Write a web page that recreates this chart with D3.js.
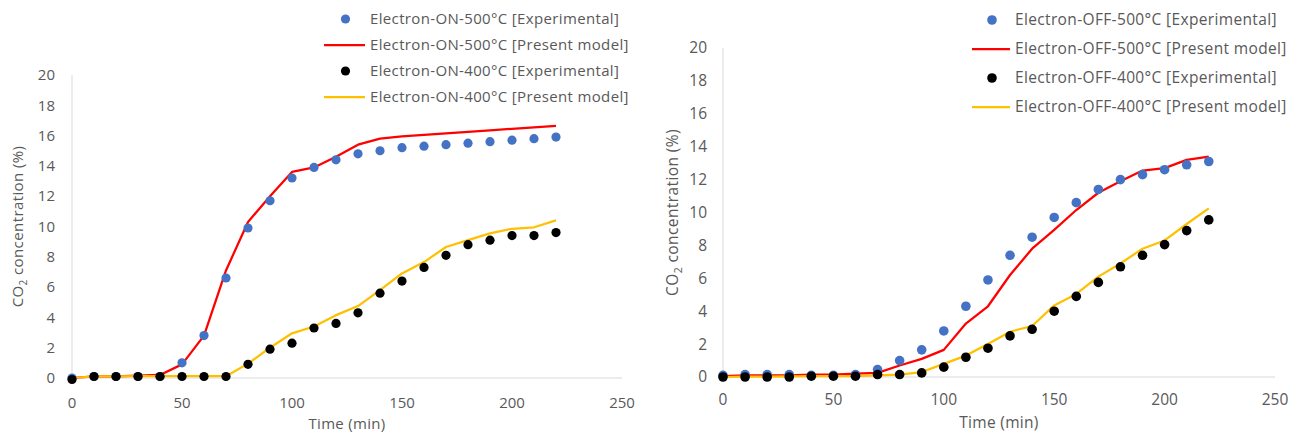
<!DOCTYPE html>
<html>
<head>
<meta charset="utf-8">
<script src="https://cdn.jsdelivr.net/npm/d3@7"></script>
<style>
  body { margin: 0; background: #fff; }
  svg { display: block; font-family: "Open Sans", sans-serif; }
</style>
</head>
<body>
<div id="vis"></div>
<script>
// time axis (min)
const times = d3.range(0, 230, 10);
const xTicks = [0, 50, 100, 150, 200, 250];
const yTicks = [0, 2, 4, 6, 8, 10, 12, 14, 16, 18, 20];

// Electron-ON panel
const onExp500 = [0, 0.1, 0.1, 0.1, 0.1, 1.0, 2.8, 6.6, 9.9, 11.7, 13.2, 13.9, 14.4, 14.8, 15.0, 15.2, 15.3, 15.4, 15.5, 15.6, 15.7, 15.8, 15.9];
const onModel500 = [0, 0.1, 0.1, 0.15, 0.2, 0.9, 2.8, 7.1, 10.3, 12.0, 13.6, 13.9, 14.6, 15.4, 15.8, 15.95, 16.05, 16.15, 16.25, 16.35, 16.45, 16.55, 16.65];
const onExp400 = [-0.1, 0.1, 0.1, 0.1, 0.1, 0.1, 0.1, 0.1, 0.9, 1.9, 2.3, 3.3, 3.6, 4.3, 5.6, 6.4, 7.3, 8.1, 8.8, 9.1, 9.4, 9.4, 9.6];
const onModel400 = [0, 0.1, 0.1, 0.12, 0.12, 0.12, 0.12, 0.12, 0.95, 2.0, 2.95, 3.4, 4.15, 4.75, 5.8, 6.9, 7.65, 8.65, 9.1, 9.55, 9.85, 9.95, 10.4];

// Electron-OFF panel
const offExp500 = [0.1, 0.15, 0.15, 0.15, 0.1, 0.1, 0.15, 0.45, 1.0, 1.65, 2.8, 4.3, 5.9, 7.4, 8.5, 9.7, 10.6, 11.4, 12.0, 12.3, 12.6, 12.9, 13.1];
const offModel500 = [0.05, 0.1, 0.1, 0.1, 0.15, 0.15, 0.2, 0.25, 0.7, 1.1, 1.65, 3.25, 4.3, 6.2, 7.8, 8.95, 10.15, 11.2, 11.9, 12.55, 12.7, 13.2, 13.4];
const offExp400 = [0, 0, 0, 0, 0.05, 0.05, 0.05, 0.15, 0.15, 0.25, 0.6, 1.2, 1.75, 2.5, 2.9, 4.0, 4.9, 5.75, 6.7, 7.4, 8.05, 8.9, 9.55];
const offModel400 = [0, 0.02, 0.03, 0.04, 0.05, 0.05, 0.06, 0.1, 0.15, 0.3, 0.8, 1.3, 2.0, 2.75, 3.1, 4.35, 5.05, 6.1, 6.9, 7.8, 8.3, 9.3, 10.25];

const blue = "#4472C4", red = "#FF0000", yellow = "#FFC000", grey = "#595959";

let svg = d3.select("#vis")
  .append("svg")
  .attr("width", 1298)
  .attr("height", 440);

function drawPanel(p) {
  let g = svg.append("g");

  let x = d3.scaleLinear().domain([0, 250]).range([p.left, p.right]);
  let y = d3.scaleLinear().domain([0, 20]).range([p.bottom, p.top]);

  // axis lines (no ticks, light grey like Excel)
  g.append("line")
    .attr("x1", x(0)).attr("x2", x(0))
    .attr("y1", y(0)).attr("y2", y(20))
    .attr("stroke", "#D9D9D9").attr("stroke-width", 1);
  g.append("line")
    .attr("x1", x(0)).attr("x2", x(250))
    .attr("y1", y(0)).attr("y2", y(0))
    .attr("stroke", "#D9D9D9").attr("stroke-width", 1);

  // tick labels
  g.selectAll(".yt")
    .data(yTicks)
    .enter()
    .append("text")
      .attr("x", x(0) - p.ygap)
      .attr("y", d => y(d))
      .attr("dy", "0.35em")
      .attr("text-anchor", "end")
      .attr("fill", grey)
      .style("font-size", p.fs + "px")
      .text(d => d);
  g.selectAll(".xt")
    .data(xTicks)
    .enter()
    .append("text")
      .attr("x", d => x(d))
      .attr("y", y(0) + p.xgap)
      .attr("dy", "0.35em")
      .attr("text-anchor", "middle")
      .attr("fill", grey)
      .style("font-size", p.fs + "px")
      .text(d => d);

  // axis titles
  g.append("text")
    .attr("x", (p.left + p.right) / 2)
    .attr("y", p.xtitleY)
    .attr("text-anchor", "middle")
    .attr("fill", grey)
    .style("font-size", p.fs + "px")
    .style("letter-spacing", "0.3px")
    .text("Time (min)");

  let yt = g.append("text")
    .attr("transform", `translate(${p.ytitleX},${(p.top + p.bottom) / 2}) rotate(-90)`)
    .attr("text-anchor", "middle")
    .attr("fill", grey)
    .style("font-size", p.fs + "px")
    .style("letter-spacing", "0.4px");
  yt.append("tspan").text("CO");
  yt.append("tspan").attr("dy", 4).style("font-size", (p.fs - 5) + "px").text("2");
  yt.append("tspan").attr("dy", -4).text(" concentration (%)");

  let line = d3.line()
    .x((d, i) => x(times[i]))
    .y(d => y(d));

  // model lines
  g.append("path")
    .datum(p.model500)
    .attr("fill", "none")
    .attr("stroke", red)
    .attr("stroke-width", 2.25)
    .attr("stroke-linejoin", "round")
    .attr("d", line);
  g.append("path")
    .datum(p.model400)
    .attr("fill", "none")
    .attr("stroke", yellow)
    .attr("stroke-width", 2.25)
    .attr("stroke-linejoin", "round")
    .attr("d", line);

  // experimental dots
  g.selectAll(".d500")
    .data(p.exp500)
    .enter()
    .append("circle")
      .attr("cx", (d, i) => x(times[i]))
      .attr("cy", d => y(d))
      .attr("r", p.r)
      .attr("fill", blue);
  g.selectAll(".d400")
    .data(p.exp400)
    .enter()
    .append("circle")
      .attr("cx", (d, i) => x(times[i]))
      .attr("cy", d => y(d))
      .attr("r", p.r)
      .attr("fill", "#000");

  // legend
  let items = [
    {label: p.name + "-500°C [Experimental]", type: "dot", color: blue},
    {label: p.name + "-500°C [Present model]", type: "line", color: red},
    {label: p.name + "-400°C [Experimental]", type: "dot", color: "#000"},
    {label: p.name + "-400°C [Present model]", type: "line", color: yellow}
  ];
  let leg = g.selectAll(".leg")
    .data(items)
    .enter()
    .append("g")
      .attr("transform", (d, i) => `translate(0,${p.legY + i * p.legStep})`);
  leg.filter(d => d.type == "dot")
    .append("circle")
      .attr("cx", p.legX - (p.legLine / 2) - 4)
      .attr("cy", 0)
      .attr("r", p.r)
      .attr("fill", d => d.color);
  leg.filter(d => d.type == "line")
    .append("line")
      .attr("x1", p.legX - p.legLine - 5)
      .attr("x2", p.legX - 5)
      .attr("y1", 0).attr("y2", 0)
      .attr("stroke", d => d.color)
      .attr("stroke-width", 2.25);
  leg.append("text")
    .attr("x", p.legX)
    .attr("y", 0)
    .attr("dy", "0.35em")
    .attr("fill", grey)
    .style("font-size", p.fs + "px")
    .style("letter-spacing", "0.35px")
    .text(d => d.label);
}

drawPanel({
  name: "Electron-ON",
  left: 72, right: 622, top: 75, bottom: 378,
  fs: 15, ygap: 17, xgap: 25, xtitleY: 429, ytitleX: 23, r: 4.6,
  legX: 370, legY: 19, legStep: 26, legLine: 41,
  exp500: onExp500, model500: onModel500, exp400: onExp400, model400: onModel400
});

drawPanel({
  name: "Electron-OFF",
  left: 723, right: 1275, top: 48, bottom: 377,
  fs: 15.5, ygap: 16, xgap: 23, xtitleY: 428, ytitleX: 678, r: 4.8,
  legX: 1015, legY: 20, legStep: 29, legLine: 38,
  exp500: offExp500, model500: offModel500, exp400: offExp400, model400: offModel400
});
</script>
</body>
</html>
